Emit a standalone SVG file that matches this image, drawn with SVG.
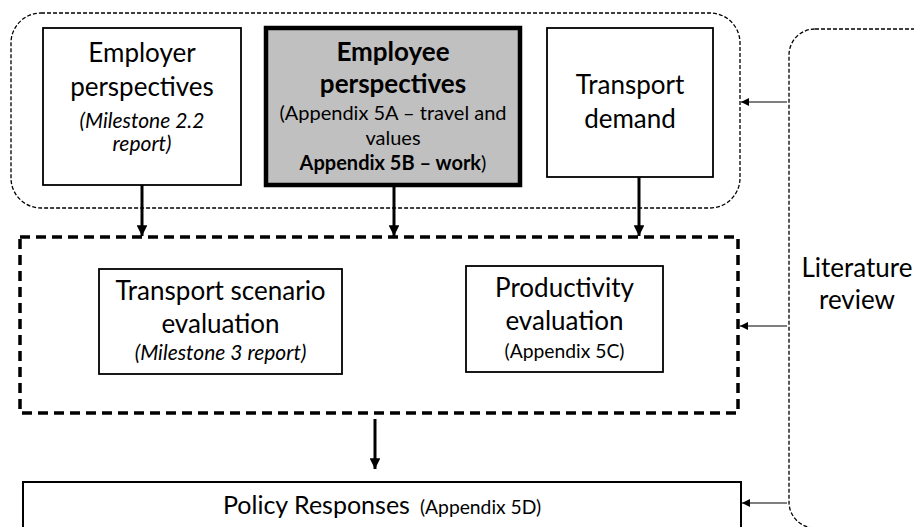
<svg xmlns="http://www.w3.org/2000/svg" width="914" height="527" viewBox="0 0 914 527">
  <defs>
    <style>
      text { font-family: Lato, "Open Sans", "Liberation Sans", sans-serif; fill: #000; text-anchor: middle; }
      .t { font-size: 26px; }
      .tb { font-size: 26px; font-weight: bold; }
      .s { font-size: 20px; }
      .s2 { font-size: 19.3px; }
      .it { font-size: 21px; font-style: italic; }
      .box { fill: #fff; stroke: #000; stroke-width: 1.8; }
      .thin-dash { fill: none; stroke: #000; stroke-width: 1.3; stroke-dasharray: 4 2; }
      .flow { stroke: #000; stroke-width: 3; fill: none; marker-end: url(#head); }
      .feed { stroke: #000; stroke-width: 1.2; fill: none; marker-end: url(#headSmall); }
    </style>
    <marker id="head" viewBox="0 0 10 10" refX="10" refY="5" markerWidth="3.6" markerHeight="3.6" markerUnits="strokeWidth" orient="auto">
      <path d="M0,0 L10,5 L0,10 z" fill="#000"/>
    </marker>
    <marker id="headSmall" viewBox="0 0 10 10" refX="10" refY="5" markerWidth="9" markerHeight="8" markerUnits="userSpaceOnUse" orient="auto">
      <path d="M0,0 L10,5 L0,10 z" fill="#000"/>
    </marker>
  </defs>

  <rect width="914" height="527" fill="#fff"/>

  <!-- Input perspectives group -->
  <g id="inputs-group">
    <rect class="thin-dash" x="11" y="13" width="729" height="195" rx="30" ry="30"/>
  </g>

  <!-- Literature review side panel -->
  <g id="literature-review">
    <rect class="thin-dash" x="789" y="29" width="150" height="499" rx="26" ry="26"/>
    <text class="t" x="857" y="277">Literature</text>
    <text class="t" x="857" y="309">review</text>
  </g>

  <g id="employer-perspectives">
    <rect class="box" x="43" y="28" width="198" height="157"/>
    <text class="t" x="142" y="62">Employer</text>
    <text class="t" x="142" y="96">perspectives</text>
    <text class="it" x="142" y="128">(Milestone 2.2</text>
    <text class="it" x="142" y="151">report)</text>
  </g>

  <g id="employee-perspectives">
    <rect x="266" y="28" width="254" height="157" fill="#c0c0c0" stroke="#000" stroke-width="4.5"/>
    <text class="tb" x="393" y="61">Employee</text>
    <text class="tb" x="393" y="93">perspectives</text>
    <text class="s" x="393" y="120">(Appendix 5A –  travel and</text>
    <text class="s" x="393" y="145">values</text>
    <text class="s" x="393" y="170"><tspan font-weight="bold">Appendix 5B – work</tspan>)</text>
  </g>

  <g id="transport-demand">
    <rect class="box" x="547" y="28" width="166" height="149"/>
    <text class="t" x="630" y="94">Transport</text>
    <text class="t" x="630" y="128">demand</text>
  </g>

  <!-- Evaluation group -->
  <g id="evaluation-group">
    <rect x="20" y="237" width="718" height="176" fill="none" stroke="#000" stroke-width="3.5" stroke-dasharray="10 6"/>
  </g>

  <g id="transport-scenario-evaluation">
    <rect class="box" x="99" y="269" width="243" height="105"/>
    <text class="t" x="220.5" y="300">Transport scenario</text>
    <text class="t" x="220.5" y="333">evaluation</text>
    <text class="it" x="220.5" y="360">(Milestone 3 report)</text>
  </g>

  <g id="productivity-evaluation">
    <rect class="box" x="466" y="266" width="197" height="106"/>
    <text class="t" x="564.5" y="297">Productivity</text>
    <text class="t" x="564.5" y="330">evaluation</text>
    <text class="s2" x="564.5" y="358">(Appendix 5C)</text>
  </g>

  <g id="policy-responses">
    <rect x="23" y="482" width="718" height="60" fill="#fff" stroke="#000" stroke-width="2"/>
    <text x="223" y="514" style="text-anchor:start"><tspan font-size="25px">Policy Responses</tspan><tspan font-size="19.3px" dx="10">(Appendix 5D)</tspan></text>
  </g>

  <!-- Connectors -->
  <g id="connectors">
    <line class="flow" x1="142" y1="185" x2="142" y2="236"/>
    <line class="flow" x1="394" y1="187" x2="394" y2="236"/>
    <line class="flow" x1="639" y1="177" x2="639" y2="236"/>
    <line class="flow" x1="375" y1="419" x2="375" y2="469"/>
    <line class="feed" x1="787" y1="102" x2="741" y2="102"/>
    <line class="feed" x1="787" y1="326" x2="740" y2="326" stroke="#666"/>
    <line class="feed" x1="787" y1="503" x2="742" y2="503"/>
  </g>
</svg>
